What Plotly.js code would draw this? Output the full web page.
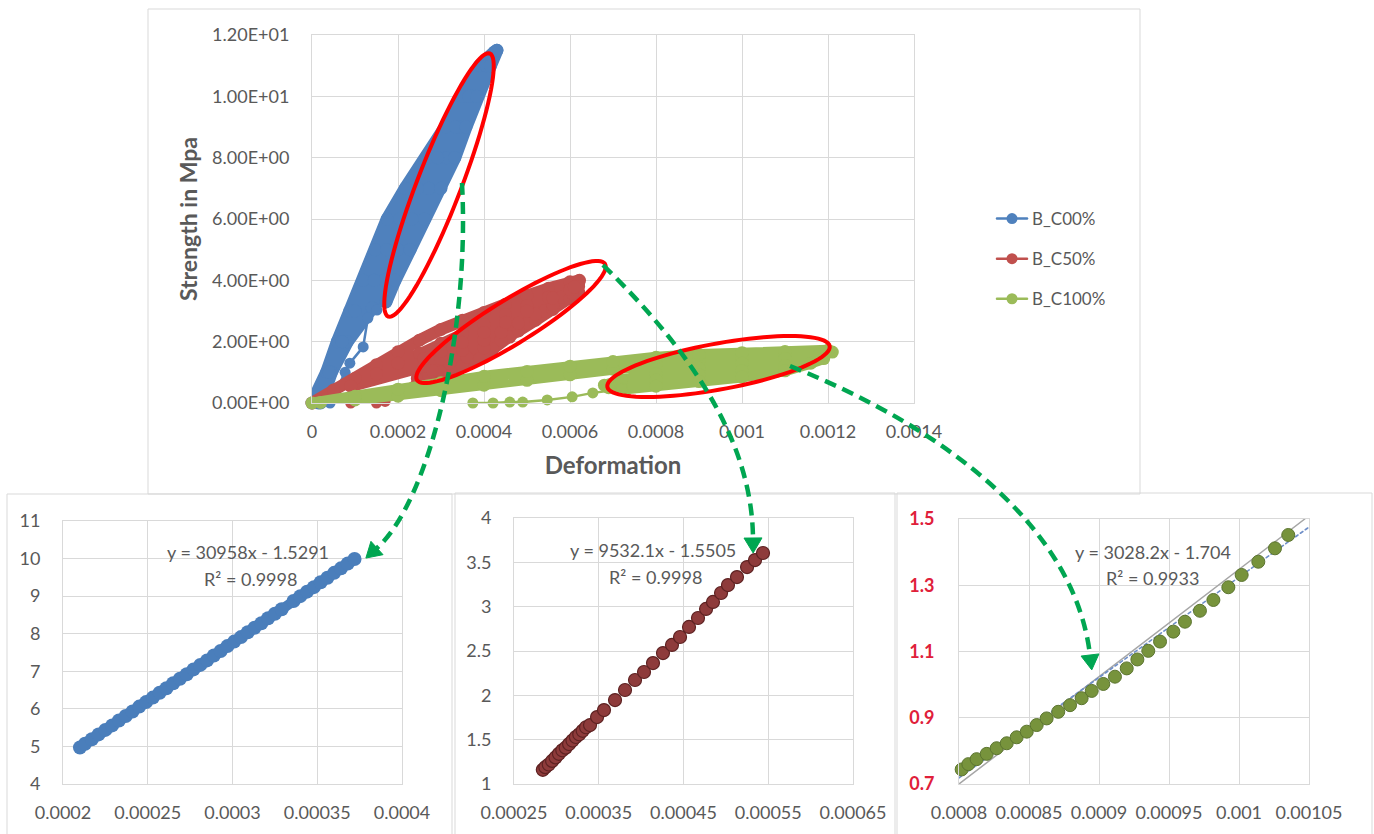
<!DOCTYPE html>
<html>
<head>
<meta charset="utf-8">
<script src="https://cdn.plot.ly/plotly-3.0.1.min.js"></script>
<style>
  html, body { margin: 0; padding: 0; background: #ffffff; }
  #chart { width: 1374px; height: 834px; }
  #chart path.js-line { stroke-linejoin: round; stroke-linecap: round; }
</style>
</head>
<body>
<div id="chart"></div>
<script>
// ---------- series: stress vs deformation, three mixes ----------
const seriesNames = ['B_C00%', 'B_C50%', 'B_C100%'];

// B_C00%: repeated loading cycles (dense band) and the unloading tail
const c00BandX = [
  0, 0.000034, 0.000059, 0.000088, 0.000119, 0.000147, 0.000175, 0.000217, 0.000268, 0.000310, 0.000348, 0.000390, 0.000425,
  0.000412, 0.000372, 0.000342, 0.000312, 0.000272, 0.000233, 0.000200, 0.000168, 0.000140, 0.000082, 0.000045, 0.000020,
  0.000015, 0.000040, 0.000070, 0.000100, 0.000145, 0.000174, 0.000204, 0.000245, 0.000292, 0.000334, 0.000365, 0.000405, 0.000430,
  0.000415, 0.000383, 0.000358, 0.000332, 0.000300, 0.000262, 0.000228, 0.000193, 0.000172
];
const c00BandY = [
  0, 1, 2, 3, 4, 5, 6, 7, 8, 9, 10, 11, 11.45,
  11.2, 10, 9, 8, 7, 6, 5, 4, 3.1, 2, 1, 0,
  0, 1, 2, 3, 4, 5, 6, 7, 8, 9, 10, 11, 11.5,
  11.0, 10.0, 9.0, 8.0, 7.0, 6.0, 5.0, 4.0, 3.3
];
const c00TailX = [0.000172, 0.000151, 0.000130, 0.000119, 0.000088, 0.000077, 0.000060, 0.000042];
const c00TailY = [3.3, 3.03, 2.77, 1.83, 1.30, 1.00, 0.50, 0.00];

// B_C50%
const c50BandX = [
  0, 0.00005, 0.0001, 0.00015, 0.0002, 0.00025, 0.0003, 0.00035, 0.0004, 0.00045, 0.0005, 0.00055, 0.0006, 0.000622,
  0.00062, 0.00058, 0.00054, 0.0005, 0.00046, 0.00042, 0.00039, 0.00035, 0.0003, 0.00026, 0.000245,
  0.00028, 0.00032, 0.00036, 0.0004, 0.00044, 0.00048, 0.00052, 0.00056, 0.0006, 0.00062,
  0.000605, 0.00056, 0.00052, 0.00048, 0.00044, 0.0004, 0.00035, 0.0003, 0.00026,
  0.00009, 0.00015, 0.0002, 0.00025, 0.0003, 0.00035, 0.0004, 0.00045, 0.0005, 0.00055, 0.0006,
  0.00061, 0.00056, 0.0005, 0.00045, 0.0004, 0.00035, 0.0003, 0.00026
];
const c50BandY = [
  0, 0.42, 0.8, 1.25, 1.67, 2.05, 2.4, 2.7, 2.95, 3.22, 3.5, 3.74, 3.95, 4.0,
  3.8, 3.45, 3.0, 2.6, 2.15, 1.75, 1.45, 1.2, 1.0, 0.9, 0.8,
  1.05, 1.3, 1.5, 1.8, 2.05, 2.35, 2.7, 3.05, 3.4, 3.62,
  3.58, 3.2, 2.9, 2.6, 2.3, 2.05, 1.72, 1.45, 1.2,
  0.55, 0.95, 1.3, 1.62, 1.95, 2.25, 2.55, 2.88, 3.18, 3.45, 3.7,
  3.78, 3.42, 3.0, 2.63, 2.3, 1.98, 1.68, 1.45
];
const c50TailX = [0.000245, 0.00017, 0.00015, 0.00013, 0.00011, 0.00009];
const c50TailY = [0.8, 0.05, 0.0, -0.03, -0.03, 0.0];

// B_C100%
const c100BandX = [
  0.00121, 0.0011, 0.001, 0.0009, 0.0008, 0.0007, 0.0006, 0.0005, 0.0004, 0.0003, 0.0002, 0.0001, 0.00002,
  0, 0.0001, 0.0002, 0.0003, 0.0004, 0.0005, 0.0006, 0.0007, 0.0008, 0.0009, 0.001, 0.0011, 0.0012,
  0.00118, 0.0011, 0.001, 0.0009, 0.0008, 0.00072, 0.00068,
  0.00069, 0.0008, 0.0009, 0.001, 0.0011, 0.00119,
  0.00116, 0.0011, 0.001, 0.0009, 0.0008, 0.00072
];
const c100BandY = [
  1.66, 1.57, 1.5, 1.4, 1.27, 1.1, 0.92, 0.74, 0.58, 0.4, 0.22, 0.1, 0.02,
  0, 0.22, 0.45, 0.66, 0.87, 1.03, 1.2, 1.35, 1.49, 1.58, 1.64, 1.68, 1.72,
  1.58, 1.45, 1.3, 1.13, 0.95, 0.75, 0.58,
  0.5, 0.75, 0.92, 1.05, 1.22, 1.45,
  1.3, 1.05, 0.85, 0.7, 0.55, 0.45
];
const c100TailX = [0.00072, 0.000653, 0.000605, 0.000547, 0.00049, 0.00046, 0.000421, 0.000374];
const c100TailY = [0.45, 0.33, 0.2, 0.1, 0.03, 0.03, 0.0, 0.0];

// ---------- linear segments selected for fitting ----------
const fitC00X = [0.000210, 0.000213, 0.000217, 0.000221, 0.000225, 0.000229, 0.000233, 0.000237, 0.000241, 0.000245,
  0.000249, 0.000253, 0.000257, 0.000261, 0.000265, 0.000269, 0.000273, 0.000277, 0.000281, 0.000285,
  0.000289, 0.000293, 0.000297, 0.000301, 0.000305, 0.000309, 0.000313, 0.000317, 0.000321, 0.000325,
  0.000329, 0.000336, 0.000340, 0.000344, 0.000348, 0.000352, 0.000356, 0.000360, 0.000364, 0.000368, 0.000372];
const fitC00Y = [4.97, 5.07, 5.19, 5.32, 5.44, 5.56, 5.69, 5.81, 5.93, 6.06,
  6.18, 6.30, 6.43, 6.55, 6.68, 6.80, 6.92, 7.05, 7.17, 7.29,
  7.42, 7.54, 7.67, 7.79, 7.91, 8.04, 8.16, 8.28, 8.41, 8.53,
  8.65, 8.87, 9.00, 9.12, 9.24, 9.37, 9.49, 9.62, 9.74, 9.87, 9.99];

const fitC50X = [0.000284, 0.000287, 0.000291, 0.000295, 0.000299, 0.000303, 0.000307, 0.000311, 0.000315, 0.000319,
  0.000323, 0.000327, 0.000331, 0.000335, 0.0003397, 0.000348, 0.0003562, 0.0003692, 0.000381, 0.0003928,
  0.0004034, 0.000414, 0.0004258, 0.0004364, 0.0004459, 0.0004565, 0.0004671, 0.0004766, 0.0004848, 0.0004943,
  0.0005025, 0.0005131, 0.000525, 0.0005344, 0.0005438];
const fitC50Y = [1.16, 1.19, 1.22, 1.26, 1.30, 1.34, 1.38, 1.41, 1.45, 1.49,
  1.53, 1.56, 1.60, 1.64, 1.665, 1.755, 1.834, 1.947, 2.06, 2.173,
  2.263, 2.364, 2.477, 2.568, 2.658, 2.771, 2.872, 2.974, 3.053, 3.154,
  3.244, 3.334, 3.447, 3.526, 3.605];

const fitC100X = [0.0008019, 0.0008067, 0.0008126, 0.0008198, 0.0008269, 0.0008341, 0.0008412, 0.0008484, 0.0008555, 0.0008626,
  0.0008709, 0.0008793, 0.0008876, 0.0008948, 0.0009031, 0.0009114, 0.0009198, 0.0009274, 0.0009352, 0.0009436,
  0.0009531, 0.0009614, 0.0009721, 0.0009817, 0.0009924, 0.0010019, 0.0010138, 0.0010257, 0.0010352];
const fitC100Y = [0.744, 0.760, 0.775, 0.791, 0.808, 0.823, 0.841, 0.858, 0.878, 0.898,
  0.918, 0.938, 0.959, 0.981, 1.002, 1.024, 1.049, 1.076, 1.102, 1.130,
  1.160, 1.190, 1.223, 1.2555, 1.294, 1.331, 1.371, 1.4115, 1.4517];
const guideC100X = [0.0008, 0.001047];
const guideC100Y = [0.70, 1.50];

// trendline equations y = slope*x + intercept
const trendSlope = [30958, 9532.1, 3028.2];
const trendIntercept = [-1.5291, -1.5505, -1.704];
const trendR2 = ['0.9998', '0.9998', '0.9933'];
const trendC100Range = [0.0008, 0.00105];

// ---------- tick labels ----------
const mainXTicks = [0, 0.0002, 0.0004, 0.0006, 0.0008, 0.001, 0.0012, 0.0014];
const mainXText = ['0', '0.0002', '0.0004', '0.0006', '0.0008', '0.001', '0.0012', '0.0014'];
const mainYTicks = [0, 2, 4, 6, 8, 10, 12];
const mainYText = ['0.00E+00', '2.00E+00', '4.00E+00', '6.00E+00', '8.00E+00', '1.00E+01', '1.20E+01'];
const p1XTicks = [0.0002, 0.00025, 0.0003, 0.00035, 0.0004];
const p1XText = ['0.0002', '0.00025', '0.0003', '0.00035', '0.0004'];
const p1YTicks = [4, 5, 6, 7, 8, 9, 10, 11];
const p1YText = ['4', '5', '6', '7', '8', '9', '10', '11'];
const p2XTicks = [0.00025, 0.00035, 0.00045, 0.00055, 0.00065];
const p2XText = ['0.00025', '0.00035', '0.00045', '0.00055', '0.00065'];
const p2YTicks = [1, 1.5, 2, 2.5, 3, 3.5, 4];
const p2YText = ['1', '1.5', '2', '2.5', '3', '3.5', '4'];
const p3XTicks = [0.0008, 0.00085, 0.0009, 0.00095, 0.001, 0.00105];
const p3XText = ['0.0008', '0.00085', '0.0009', '0.00095', '0.001', '0.00105'];
const p3YTicks = [0.7, 0.9, 1.1, 1.3, 1.5];
const p3YText = ['0.7', '0.9', '1.1', '1.3', '1.5'];

// ---------- page geometry helpers (pixels -> paper) ----------
const W = 1374, H = 834;
const PX = p => p / W;
const PY = p => 1 - p / H;
const pt = (x, y) => PX(x).toFixed(5) + ',' + PY(y).toFixed(5);

function ellipsePath(cx, cy, a, b, deg) {
  const t = deg * Math.PI / 180;
  let d = '';
  for (let i = 0; i <= 90; i++) {
    const u = i / 90 * 2 * Math.PI;
    const ex = a * Math.cos(u), ey = b * Math.sin(u);
    const x = cx + ex * Math.cos(t) - ey * Math.sin(t);
    const y = cy + ex * Math.sin(t) + ey * Math.cos(t);
    d += (i ? 'L' : 'M') + pt(x, y);
  }
  return d + 'Z';
}
function curvePath(p0, p1, p2, p3) {
  return 'M' + pt(p0[0], p0[1]) + ' C' + pt(p1[0], p1[1]) + ' ' + pt(p2[0], p2[1]) + ' ' + pt(p3[0], p3[1]);
}
function headPath(p2, p3, len, hw) {
  const dx = p3[0] - p2[0], dy = p3[1] - p2[1];
  const L = Math.hypot(dx, dy), ux = dx / L, uy = dy / L;
  const tx = p3[0] + ux * len, ty = p3[1] + uy * len;
  const nx = -uy, ny = ux;
  return 'M' + pt(tx, ty) + 'L' + pt(p3[0] + nx * hw, p3[1] + ny * hw) + 'L' + pt(p3[0] - nx * hw, p3[1] - ny * hw) + 'Z';
}

const FONT = 'Lato, "Open Sans", "Liberation Sans", sans-serif';
const GREY = '#595959';
const GRID = '#D9D9D9';
const colors = ['#4F81BD', '#C0504D', '#9BBB59'];
const bandWidths = [13, 12, 11];

// ---------- traces ----------
const traces = [];
const mainSeries = [
  [c00BandX, c00BandY, c00TailX, c00TailY],
  [c50BandX, c50BandY, c50TailX, c50TailY],
  [c100BandX, c100BandY, c100TailX, c100TailY]
];
mainSeries.forEach((s, i) => {
  // dense overlapping cycles render as a solid band
  traces.push({
    type: 'scatter', mode: 'lines+markers', name: seriesNames[i],
    x: s[0], y: s[1], xaxis: 'x', yaxis: 'y',
    legendgroup: 'g' + i, showlegend: false, cliponaxis: false,
    line: { color: colors[i], width: bandWidths[i] },
    marker: { color: colors[i], size: 13, line: { width: 0 } }
  });
  traces.push({
    type: 'scatter', mode: 'lines+markers', name: seriesNames[i],
    x: s[2], y: s[3], xaxis: 'x', yaxis: 'y',
    legendgroup: 'g' + i, showlegend: true, cliponaxis: false,
    line: { color: colors[i], width: 2.5 },
    marker: { color: colors[i], size: 11, line: { width: 0 } }
  });
});

traces.push({
  type: 'scatter', mode: 'lines+markers', x: fitC00X, y: fitC00Y, xaxis: 'x2', yaxis: 'y2',
  showlegend: false, cliponaxis: false,
  line: { color: '#4A7EBB', width: 10 },
  marker: { color: '#4A7EBB', size: 14, line: { width: 0 } }
});
traces.push({
  type: 'scatter', mode: 'markers', x: fitC50X, y: fitC50Y, xaxis: 'x3', yaxis: 'y3',
  showlegend: false, cliponaxis: false,
  marker: { color: '#8E3B3B', size: 13, line: { color: '#5E2222', width: 1.2 } }
});
traces.push({
  type: 'scatter', mode: 'lines', x: guideC100X, y: guideC100Y, xaxis: 'x4', yaxis: 'y4',
  showlegend: false, line: { color: '#A6A6A6', width: 1.5 }
});
const trendYEnds = trendC100Range.map(x => trendSlope[2] * x + trendIntercept[2]);
traces.push({
  type: 'scatter', mode: 'lines', x: trendC100Range, y: trendYEnds, xaxis: 'x4', yaxis: 'y4',
  showlegend: false, line: { color: '#6F8FC8', width: 1.6, dash: 'dot' }
});
traces.push({
  type: 'scatter', mode: 'markers', x: fitC100X, y: fitC100Y, xaxis: 'x4', yaxis: 'y4',
  showlegend: false, cliponaxis: false,
  marker: { color: '#77933C', size: 13, line: { color: '#5C7530', width: 1 } }
});

// ---------- axes ----------
function axis(extra) {
  return Object.assign({
    tickmode: 'array', showgrid: true, gridcolor: GRID, gridwidth: 1,
    zeroline: false, showline: true, mirror: true, linecolor: GRID, linewidth: 1,
    ticks: '', automargin: false, fixedrange: true,
    tickfont: { family: FONT, size: 18, color: GREY }
  }, extra);
}

const layout = {
  width: W, height: H,
  margin: { l: 0, r: 0, t: 0, b: 0, pad: 0 },
  paper_bgcolor: '#ffffff', plot_bgcolor: '#ffffff',
  font: { family: FONT, color: GREY },
  showlegend: true,
  legend: {
    x: PX(992), y: PY(201), xanchor: 'left', yanchor: 'top',
    font: { family: FONT, size: 17, color: GREY },
    tracegroupgap: 15, bgcolor: 'rgba(0,0,0,0)', borderwidth: 0
  },
  xaxis: axis({
    domain: [PX(312), PX(914)], range: [0, 0.0014], anchor: 'y',
    tickvals: mainXTicks, ticktext: mainXText, ticklabelstandoff: 12,
    title: { text: 'Deformation', standoff: 16, font: { family: FONT, size: 24, weight: 'bold', color: GREY } }
  }),
  yaxis: axis({
    domain: [PY(403), PY(35)], range: [0, 12], anchor: 'x',
    tickvals: mainYTicks, ticktext: mainYText, ticklabelstandoff: 18,
    title: { text: 'Strength in Mpa', standoff: 8, font: { family: FONT, size: 23, weight: 'bold', color: GREY } }
  }),
  xaxis2: axis({
    domain: [PX(63), PX(402)], range: [0.0002, 0.0004], anchor: 'y2',
    tickvals: p1XTicks, ticktext: p1XText, ticklabelstandoff: 12
  }),
  yaxis2: axis({
    domain: [PY(784), PY(521)], range: [4, 11], anchor: 'x2',
    tickvals: p1YTicks, ticktext: p1YText, ticklabelstandoff: 18
  }),
  xaxis3: axis({
    domain: [PX(514), PX(853)], range: [0.00025, 0.00065], anchor: 'y3',
    tickvals: p2XTicks, ticktext: p2XText, ticklabelstandoff: 12
  }),
  yaxis3: axis({
    domain: [PY(784), PY(518)], range: [1, 4], anchor: 'x3',
    tickvals: p2YTicks, ticktext: p2YText, ticklabelstandoff: 18
  }),
  xaxis4: axis({
    domain: [PX(959), PX(1309)], range: [0.0008, 0.00105], anchor: 'y4',
    tickvals: p3XTicks, ticktext: p3XText, ticklabelstandoff: 12
  }),
  yaxis4: axis({
    domain: [PY(784), PY(519)], range: [0.7, 1.5], anchor: 'x4',
    tickvals: p3YTicks, ticktext: p3YText, ticklabelstandoff: 20,
    tickfont: { family: FONT, size: 18, color: '#E0203A', weight: 'bold' }
  })
};

// ---------- frames, highlight ellipses, connector arrows ----------
const frame = (x0, y0, x1, y1) => ({
  type: 'rect', xref: 'paper', yref: 'paper', layer: 'below',
  x0: PX(x0), x1: PX(x1), y0: PY(y1), y1: PY(y0),
  line: { color: GRID, width: 1 }, fillcolor: 'rgba(0,0,0,0)'
});
const ring = (cx, cy, a, b, deg) => ({
  type: 'path', xref: 'paper', yref: 'paper', layer: 'above',
  path: ellipsePath(cx, cy, a, b, deg),
  line: { color: '#FF0000', width: 4 }, fillcolor: 'rgba(0,0,0,0)'
});
const ARROW = '#00A651';
const connector = (p0, p1, p2, p3) => [
  { type: 'path', xref: 'paper', yref: 'paper', layer: 'above', path: curvePath(p0, p1, p2, p3),
    line: { color: ARROW, width: 4.5, dash: '12px,7px' } },
  { type: 'path', xref: 'paper', yref: 'paper', layer: 'above', path: headPath(p2, p3, 15, 9),
    line: { color: ARROW, width: 1 }, fillcolor: ARROW }
];

layout.shapes = [
  frame(148, 9, 1140, 494),
  frame(7, 494, 452, 840),
  frame(455, 493, 895, 840),
  frame(897, 493, 1372, 840),
  ring(439, 185, 141, 22, -68.9),
  ring(511, 322, 110.5, 22, -31.7),
  ring(718.5, 366.5, 113, 23, -10.4),
  ...connector([462, 183], [470, 330], [430, 500], [377, 548]),
  ...connector([603, 265], [690, 350], [752, 440], [753, 538]),
  ...connector([790, 366], [950, 430], [1075, 530], [1090, 655])
];

// ---------- trendline labels ----------
const fmtEq = i => 'y = ' + trendSlope[i] + 'x - ' + Math.abs(trendIntercept[i]);
const labelPos = [[[248, 552], [250, 579]], [[653, 550], [655, 577]], [[1153, 552], [1152, 578]]];
layout.annotations = [];
labelPos.forEach((p, i) => {
  const f = { family: FONT, size: 18, color: GREY };
  layout.annotations.push({ xref: 'paper', yref: 'paper', x: PX(p[0][0]), y: PY(p[0][1]),
    xanchor: 'center', yanchor: 'middle', showarrow: false, text: fmtEq(i), font: f });
  layout.annotations.push({ xref: 'paper', yref: 'paper', x: PX(p[1][0]), y: PY(p[1][1]),
    xanchor: 'center', yanchor: 'middle', showarrow: false, text: 'R² = ' + trendR2[i], font: f });
});

Plotly.newPlot('chart', traces, layout, { staticPlot: true, displayModeBar: false });
</script>
</body>
</html>
